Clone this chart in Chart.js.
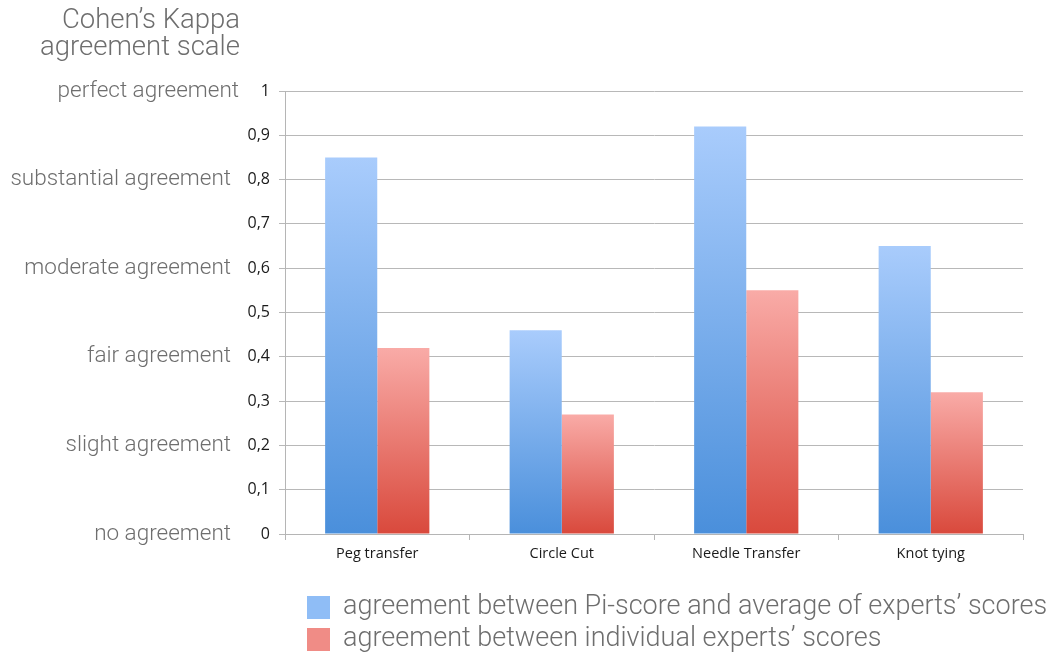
<!DOCTYPE html>
<html>
<head>
<meta charset="utf-8">
<script src="https://cdn.jsdelivr.net/npm/chart.js@4.4.1/dist/chart.umd.min.js"></script>
<style>
  html, body { margin: 0; padding: 0; background: #ffffff; }
  #wrap { width: 1058px; height: 657px; position: relative; }
</style>
</head>
<body>
<div id="wrap"><canvas id="c" width="1058" height="657"></canvas></div>
<script>
const categories = ["Peg transfer", "Circle Cut", "Needle Transfer", "Knot tying"];
const piScoreAgreement = [0.85, 0.46, 0.92, 0.65];
const expertsAgreement = [0.42, 0.27, 0.55, 0.32];
const seriesLabels = [
  "agreement between Pi-score and average of experts\u2019 scores",
  "agreement between individual experts\u2019 scores"
];
const yTickValues = [0, 0.1, 0.2, 0.3, 0.4, 0.5, 0.6, 0.7, 0.8, 0.9, 1];
const kappaLabels = ["no agreement", "slight agreement", "fair agreement", "moderate agreement", "substantial agreement", "perfect agreement"];
const kappaValues = [0, 0.2, 0.4, 0.6, 0.8, 1];
const titleLines = ["Cohen\u2019s Kappa", "agreement scale"];

const LIGHT_FONT = "Roboto, 'Open Sans', 'Liberation Sans', sans-serif";
const TICK_FONT = "'Open Sans', 'Noto Sans', 'Liberation Sans', sans-serif";

function barGradient(topColor, bottomColor, fallback) {
  return function (ctx) {
    const chart = ctx.chart;
    if (!chart.chartArea || ctx.type !== 'data' || !chart.scales.y) return fallback;
    const ys = chart.scales.y;
    const top = ys.getPixelForValue(ctx.raw);
    const bot = ys.getPixelForValue(0);
    if (!isFinite(top) || !isFinite(bot) || top === bot) return fallback;
    const g = chart.ctx.createLinearGradient(0, top, 0, bot);
    g.addColorStop(0, topColor);
    g.addColorStop(1, bottomColor);
    return g;
  };
}

const sideTextPlugin = {
  id: 'sideText',
  afterDraw(chart) {
    const c = chart.ctx;
    const ys = chart.scales.y;
    c.save();
    c.fillStyle = '#6e6e6e';
    c.textAlign = 'right';
    c.textBaseline = 'middle';
    c.font = "300 27.5px " + LIGHT_FONT;
    c.fillText(titleLines[0], 240, 21);
    c.fillText(titleLines[1], 240, 48);
    c.font = "300 22.5px " + LIGHT_FONT;
    kappaLabels.forEach((lab, i) => {
      const y = ys.getPixelForValue(kappaValues[i]);
      c.fillText(lab, kappaValues[i] === 1 ? 239 : 231, y);
    });
    // legend
    const colors = ['#8fbdf6', '#f08c86'];
    const rows = [607, 639];
    c.textAlign = 'left';
    c.font = "300 27px " + LIGHT_FONT;
    seriesLabels.forEach((lab, i) => {
      c.fillStyle = colors[i];
      c.fillRect(307, rows[i] - 11, 23, 23);
      c.fillStyle = '#6e6e6e';
      c.fillText(lab, 343, rows[i]);
    });
    c.restore();
  }
};

new Chart(document.getElementById('c'), {
  type: 'bar',
  data: {
    labels: categories,
    datasets: [
      {
        label: seriesLabels[0],
        data: piScoreAgreement,
        backgroundColor: barGradient('#a9ccfc', '#4a8fdb', '#7fb0f0'),
        borderWidth: 0
      },
      {
        label: seriesLabels[1],
        data: expertsAgreement,
        backgroundColor: barGradient('#f9aba7', '#d9493c', '#ec7f77'),
        borderWidth: 0
      }
    ]
  },
  options: {
    responsive: false,
    animation: false,
    devicePixelRatio: 1,
    layout: { padding: { left: 0, top: 91, right: 35, bottom: 83 } },
    datasets: { bar: { categoryPercentage: 0.565, barPercentage: 1 } },
    plugins: {
      legend: { display: false },
      tooltip: { enabled: false },
      title: { display: false }
    },
    scales: {
      x: {
        offset: true,
        grid: {
          offset: true,
          drawOnChartArea: false,
          drawTicks: true,
          tickLength: 6,
          color: '#b5b5b5',
          lineWidth: 1
        },
        border: { display: true, color: '#b5b5b5', width: 1 },
        ticks: {
          color: '#1a1a1a',
          font: { family: TICK_FONT, size: 14.5 },
          padding: 5,
          maxRotation: 0
        },
        afterFit(scale) { scale.height = 40; }
      },
      y: {
        min: 0,
        max: 1,
        afterBuildTicks(scale) { scale.ticks = yTickValues.map(v => ({ value: v })); },
        grid: {
          color: '#b8b8b8',
          lineWidth: 1,
          drawTicks: true,
          tickLength: 6
        },
        border: { display: true, color: '#b5b5b5', width: 1 },
        ticks: {
          color: '#1a1a1a',
          font: { family: TICK_FONT, size: 16 },
          padding: 9,
          callback: (v) => String(Math.round(v * 10) / 10).replace('.', ',')
        },
        afterFit(scale) { scale.width = 285; }
      }
    }
  },
  plugins: [sideTextPlugin]
});
</script>
</body>
</html>
